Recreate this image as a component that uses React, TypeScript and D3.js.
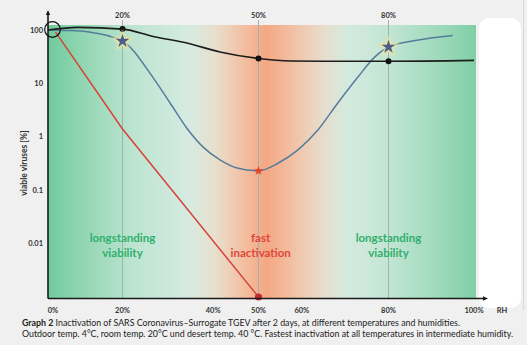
import React from "react";
import * as d3 from "d3";

// ---- data ----
const xTickLabels = ["0%", "20%", "40%", "50%", "60%", "80%", "100%"];
const xTickValues = [0, 20, 40, 50, 60, 80, 100];
const topMarks = [20, 50, 80];
const yTickValues = [100, 10, 1, 0.1, 0.01];
const yTickLabels = ["100", "10", "1", "0.1", "0.01"];

const blueRH = [0, 5, 11, 20, 26.7, 30.5, 34.2, 37.8, 41.5, 45.3, 50, 54.5, 59.1, 63.7, 68.3, 72.9, 76.8, 80, 87, 95];
const blueVal = [100, 98, 92, 62, 13, 4.3, 1.45, 0.64, 0.37, 0.26, 0.23, 0.32, 0.57, 1.34, 4.3, 13, 31, 48, 65, 79];

const blackRH = [0, 8, 20, 27, 34.2, 41.5, 50, 57.5, 65, 80, 100];
const blackVal = [100, 112, 104, 75, 57, 38.7, 29.3, 26.3, 26, 26, 27];

const redRH = [2, 20, 50];
const redVal = [92, 1.4, 0.001];

const blackDotsRH = [20, 50, 80];
const blackDotsVal = [104, 29.3, 26];
const starRH = [20, 50, 80];
const starVal = [62, 0.23, 48];

const W = 527;
const H = 345;

export default function App() {
  const x = d3.scaleLinear().domain([0, 20, 50, 80, 100]).range([48, 122.5, 258.5, 388.5, 474]);
  const y = d3.scaleLog().domain([0.001, 100]).range([297, 30]);
  const axisY = 298.5;
  const plotTop = 25;
  const plotRight = 476;

  const line = d3
    .line<[number, number]>()
    .x((d) => x(d[0]))
    .y((d) => y(d[1]))
    .curve(d3.curveMonotoneX);
  const straight = d3
    .line<[number, number]>()
    .x((d) => x(d[0]))
    .y((d) => y(d[1]));

  const blue = line(blueRH.map((r, i) => [r, blueVal[i]]));
  const black = line(blackRH.map((r, i) => [r, blackVal[i]]));
  const red = straight(redRH.map((r, i) => [r, redVal[i]]));

  const starBig = d3.symbol(d3.symbolStar, 58)();
  const starSmall = d3.symbol(d3.symbolStar, 28)();

  const stops: [number, string][] = [
    [0, "#6fcb9d"],
    [0.08, "#91d6b2"],
    [0.2, "#bde4d1"],
    [0.33, "#d6ebe1"],
    [0.39, "#e8dfcd"],
    [0.46, "#f3bea0"],
    [0.51, "#f4a782"],
    [0.57, "#f2c0a3"],
    [0.64, "#e8dccb"],
    [0.7, "#d4eadf"],
    [0.8, "#c1e5d3"],
    [0.92, "#9cd9b9"],
    [1, "#7fcfa6"],
  ];

  const font = "Lato, 'Open Sans', sans-serif";

  return (
    <svg
      width={W}
      height={H}
      style={{ position: "absolute", left: 0, top: 0, background: "#f0f0f0" }}
      fontFamily={font}
    >
      <defs>
        <linearGradient id="bg" x1="0" x2="1" y1="0" y2="0">
          {stops.map(([o, c], i) => (
            <stop key={i} offset={o} stopColor={c} />
          ))}
        </linearGradient>
        <filter id="glow" x="-50%" y="-50%" width="200%" height="200%">
          <feGaussianBlur stdDeviation="1.2" />
        </filter>
      </defs>
      <rect x={0} y={0} width={W} height={H} fill="#f0f0f0" />
      {/* white blob on the right */}
      <rect x={479} y={18} width={42} height={290} rx={10} fill="#ffffff" />
      <line x1={523.5} x2={523.5} y1={0} y2={310} stroke="#d8d8d8" />

      {/* background gradient */}
      <rect x={x(0)} y={plotTop} width={plotRight - x(0)} height={axisY - plotTop} fill="url(#bg)" />

      {/* vertical guide lines */}
      {topMarks.map((m) => (
        <line key={m} x1={x(m)} x2={x(m)} y1={20} y2={axisY} stroke="#9fb3a8" strokeWidth={1} />
      ))}
      {topMarks.map((m) => (
        <text key={"t" + m} x={x(m)} y={18} textAnchor="middle" fontSize={7.5} fontWeight={700} fill="#333">
          {m}%
        </text>
      ))}

      {/* region labels */}
      {[
        { rh: 20, t: ["longstanding", "viability"], c: "#2fb06c" },
        { rh: 50.5, t: ["fast", "inactivation"], c: "#e0463b" },
        { rh: 80, t: ["longstanding", "viability"], c: "#2fb06c" },
      ].map((g, i) => (
        <text key={i} x={x(g.rh)} textAnchor="middle" fontSize={11.5} fontWeight={700} fill={g.c}>
          <tspan x={x(g.rh)} y={242}>{g.t[0]}</tspan>
          <tspan x={x(g.rh)} y={257}>{g.t[1]}</tspan>
        </text>
      ))}

      {/* curves */}
      <path d={red || ""} fill="none" stroke="#d7423a" strokeWidth={1.5} />
      <path d={blue || ""} fill="none" stroke="#557c9c" strokeWidth={1.5} />
      <path d={black || ""} fill="none" stroke="#1d1d1d" strokeWidth={1.6} />

      {/* black dots */}
      {blackDotsRH.map((r, i) => (
        <circle key={i} cx={x(r)} cy={y(blackDotsVal[i])} r={3} fill="#111" />
      ))}
      {/* red dot */}
      <circle cx={x(50)} cy={y(0.001)} r={3.6} fill="#c22a2e" />

      {/* stars */}
      {starRH.map((r, i) => {
        const big = r !== 50;
        const cx = x(r);
        const cy = y(starVal[i]);
        return (
          <g key={i} transform={`translate(${cx},${cy})`}>
            {big && <path d={starBig || ""} fill="#e9e4a0" stroke="#e9e4a0" strokeWidth={3} filter="url(#glow)" />}
            <path d={(big ? starBig : starSmall) || ""} fill={big ? "#4b5d88" : "#ec3f1f"} />
          </g>
        );
      })}

      {/* open circle at start */}
      <circle cx={52.5} cy={29.5} r={7.8} fill="none" stroke="#111" strokeWidth={1.2} />

      {/* axes */}
      <line x1={x(0)} x2={x(0)} y1={axisY} y2={13} stroke="#1a1a1a" strokeWidth={1.6} />
      <path d={`M${x(0) - 2.2},15 L${x(0)},10 L${x(0) + 2.2},15 Z`} fill="#1a1a1a" />
      <line x1={x(0)} x2={485} y1={axisY} y2={axisY} stroke="#1a1a1a" strokeWidth={1.6} />
      <path d={`M483,${axisY - 2.2} L488,${axisY} L483,${axisY + 2.2} Z`} fill="#1a1a1a" />

      {/* y tick labels */}
      {yTickValues.map((v, i) => (
        <text key={i} x={43} y={y(v)} dy="0.35em" textAnchor="end" fontSize={7.5} fontWeight={700} fill="#333">
          {yTickLabels[i]}
        </text>
      ))}
      <text
        transform={`translate(27,163) rotate(-90)`}
        textAnchor="middle"
        fontSize={8.5}
        fontWeight={700}
        fill="#333"
      >
        viable viruses [%]
      </text>

      {/* x tick labels */}
      {xTickValues.map((v, i) => (
        <text key={i} x={x(v) + (v === 0 ? 5 : 0)} y={312.5} textAnchor="middle" fontSize={7.5} fontWeight={700} fill="#333">
          {xTickLabels[i]}
        </text>
      ))}
      <text x={502} y={312.5} textAnchor="middle" fontSize={7.5} fontWeight={700} fill="#333">
        RH
      </text>

      {/* caption */}
      <text x={22} y={326} fontSize={9.3} fill="#222" textLength={438} lengthAdjust="spacingAndGlyphs">
        <tspan fontWeight={700}>Graph 2</tspan>
        <tspan> Inactivation of SARS Coronavirus–Surrogate TGEV after 2 days, at different temperatures and humidities.</tspan>
      </text>
      <text x={22} y={337} fontSize={9} fill="#222" textLength={491} lengthAdjust="spacingAndGlyphs">
        Outdoor temp. 4°C, room temp. 20°C und desert temp. 40 °C. Fastest inactivation at all temperatures in intermediate humidity.
      </text>
    </svg>
  );
}
